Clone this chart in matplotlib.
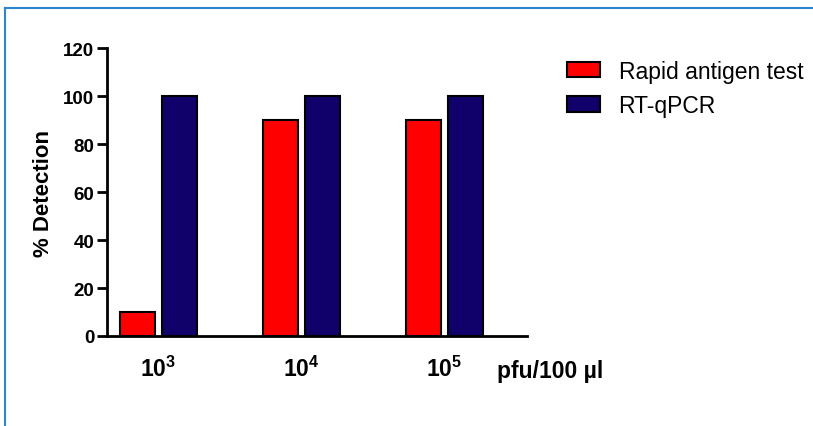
import matplotlib
matplotlib.use("Agg")
import matplotlib.pyplot as plt
import numpy as np
from matplotlib.patches import Patch
from matplotlib.lines import Line2D

categories = ["$\\mathbf{10^3}$", "$\\mathbf{10^4}$", "$\\mathbf{10^5}$"]
rapid = [10, 90, 90]
rtqpcr = [100, 100, 100]
series_names = ["Rapid antigen test", "RT-qPCR"]
yticks = [0, 20, 40, 60, 80, 100, 120]

plt.rcParams['font.family'] = ['Liberation Sans', 'DejaVu Sans']
plt.rcParams['mathtext.fontset'] = 'custom'
plt.rcParams['mathtext.bf'] = 'Liberation Sans:bold'
plt.rcParams['mathtext.rm'] = 'Liberation Sans'

fig = plt.figure(figsize=(8.13, 4.27), dpi=100)
ax = fig.add_axes([0.1316, 0.2108, 0.648 - 0.1316, 0.885 - 0.2108])

x = np.arange(len(categories))
w = 0.245
off = 0.147
red = "#FF0000"
navy = "#10006A"
ax.bar(x - off, rapid, w, color=red, edgecolor="black", linewidth=1.5)
ax.bar(x + off, rtqpcr, w, color=navy, edgecolor="black", linewidth=1.5)

ax.set_xlim(-0.36, 2.577)
ax.set_ylim(0, 120)
ax.set_yticks(yticks)
ax.set_yticklabels([str(v) for v in yticks], fontweight="bold", fontsize=13.5)
ax.set_xticks(x)
ax.set_xticklabels(categories, fontsize=16.5)
ax.tick_params(axis="x", length=0, pad=14)
ax.tick_params(axis="y", length=7.5, width=2, direction="out", pad=1.5)
for s in ["top", "right"]:
    ax.spines[s].set_visible(False)
for s in ["left", "bottom"]:
    ax.spines[s].set_linewidth(2)
ax.set_ylabel("% Detection", fontweight="bold", fontsize=16, labelpad=7)

fig.text(497 / 813, 1 - 369 / 427, "pfu/100 µl", fontweight="bold", fontsize=16.5,
         ha="left", va="center_baseline")

handles = [Patch(facecolor=red, edgecolor="black", linewidth=1.5),
           Patch(facecolor=navy, edgecolor="black", linewidth=1.5)]
fig.legend(handles, series_names, loc="upper left",
           bbox_to_anchor=(567 / 813, 1 - 60.5 / 427), frameon=False, fontsize=16.5,
           borderpad=0, borderaxespad=0,
           handlelength=1.45, handleheight=0.65, labelspacing=0.5, handletextpad=0.8)

# blue frame lines (top and left)
fig.add_artist(Line2D([5 / 813, 1], [1 - 9 / 427, 1 - 9 / 427], color="#2E86D0",
                      linewidth=1.5, transform=fig.transFigure))
fig.add_artist(Line2D([5 / 813, 5 / 813], [0, 1 - 9 / 427], color="#2E86D0",
                      linewidth=1.5, transform=fig.transFigure))

fig.savefig("out.png", dpi=100)
